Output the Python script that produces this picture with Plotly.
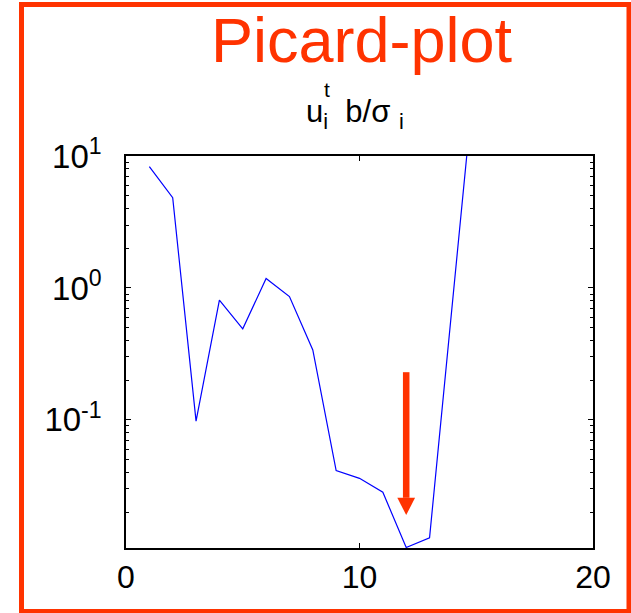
import plotly.graph_objects as go
import math

# ---- data ----
idx = [1, 2, 3, 4, 5, 6, 7, 8, 9, 10, 11, 12, 13, 14, 15]
picard = [8.3, 4.83, 0.098, 0.81, 0.49, 1.18, 0.86, 0.339, 0.0413, 0.0361,
          0.0283, 0.0108, 0.0128, 0.85, 55.0]

x_ticks = [0, 10, 20]
x_ticktext = ["0", "10", "20"]
y_ticks = [0.1, 1, 10]
y_ticktext = ["10<sup>-1</sup>", "10<sup>0</sup>", "10<sup>1</sup>"]

y_min, y_max = 0.0107, 10.0
x_min, x_max = 0, 20

# arrow marking the minimum
arrow_x = 12
arrow_top = 0.23
arrow_head_base = 0.0257
arrow_tip = 0.019

RED = "#FF3300"
FONT = "Liberation Sans, Arial, sans-serif"

fig = go.Figure()
fig.add_trace(go.Scatter(x=idx, y=picard, mode="lines",
                         line=dict(color="#0000FF", width=1.2),
                         showlegend=False, hoverinfo="skip"))

W, H = 631, 613
L, R, T, B = 126, 38, 156, 65
pw, ph = W - L - R, H - T - B

def px(xp):
    return (xp - L) / pw

def py(yp):
    return (H - B - yp) / ph

shapes = []
# outer orange frame
shapes.append(dict(type="rect", xref="paper", yref="paper",
                   x0=px(21.5), x1=px(629), y0=py(611.5), y1=py(4.5),
                   line=dict(color=RED, width=5), fillcolor="rgba(0,0,0,0)"))
# arrow shaft
shapes.append(dict(type="rect", xref="x", yref="y",
                   x0=arrow_x - 0.14, x1=arrow_x + 0.14,
                   y0=arrow_head_base, y1=arrow_top,
                   line=dict(width=0), fillcolor=RED))
# arrow head
shapes.append(dict(type="path", xref="x", yref="y",
                   path=f"M {arrow_x-0.38},{arrow_head_base} L {arrow_x+0.38},{arrow_head_base} L {arrow_x},{arrow_tip} Z",
                   line=dict(width=0), fillcolor=RED))

annotations = [
    dict(text="Picard-plot", xref="paper", yref="paper", x=px(362), y=py(40),
         xanchor="center", yanchor="middle", showarrow=False,
         font=dict(family=FONT, size=63, color=RED)),
    dict(text="u<sub>i</sub>  b/σ <sub>i</sub>", xref="paper", yref="paper",
         x=px(304), y=py(114), xanchor="left", yanchor="middle", showarrow=False,
         font=dict(family=FONT, size=31, color="black")),
    dict(text="t", xref="paper", yref="paper",
         x=px(322), y=py(89), xanchor="left", yanchor="middle", showarrow=False,
         font=dict(family=FONT, size=21, color="black")),
]

fig.update_layout(
    width=W, height=H,
    margin=dict(l=L, r=R, t=T, b=B, pad=0),
    paper_bgcolor="white", plot_bgcolor="white",
    shapes=shapes, annotations=annotations,
    font=dict(family=FONT, color="black"),
)
fig.update_xaxes(range=[x_min, x_max], tickvals=x_ticks, ticktext=x_ticktext,
                 ticks="inside", ticklen=5, tickcolor="black", tickwidth=1,
                 showline=True, linecolor="black", linewidth=1.5, mirror="ticks",
                 showgrid=False, zeroline=False,
                 tickfont=dict(family=FONT, size=32, color="black"),
                 ticklabelstandoff=0)
fig.update_yaxes(type="log", range=[math.log10(y_min), math.log10(y_max)],
                 tickvals=y_ticks, ticktext=y_ticktext,
                 ticks="inside", ticklen=5, tickcolor="black", tickwidth=1,
                 minor=dict(ticks="inside", ticklen=3, tickcolor="black",
                            tickwidth=1, dtick="D1", showgrid=False),
                 showline=True, linecolor="black", linewidth=1.5, mirror="ticks",
                 showgrid=False, zeroline=False,
                 tickfont=dict(family=FONT, size=33, color="black"),
                 ticklabelstandoff=16)

fig.write_html("out.html", config={"displayModeBar": False},
               post_script="document.body.style.margin='0';document.body.style.overflow='hidden';")
